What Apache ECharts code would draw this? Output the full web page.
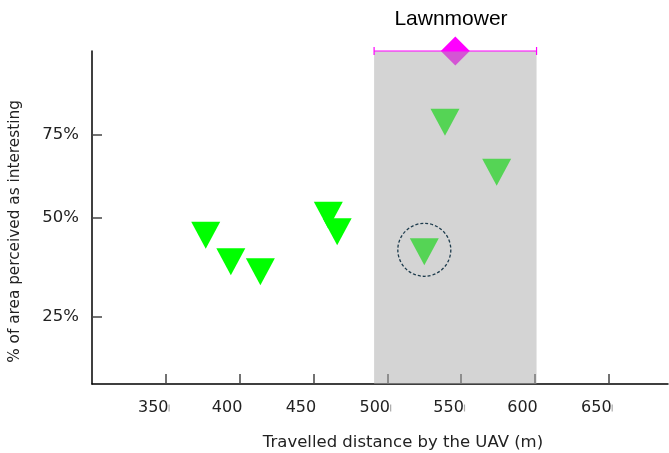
<!DOCTYPE html>
<html>
<head>
<meta charset="utf-8">
<script src="https://cdn.jsdelivr.net/npm/echarts@6/dist/echarts.min.js"></script>
<style>html,body{margin:0;padding:0;background:#fff;}#c{width:669px;height:453px;}</style>
</head>
<body>
<div id="c"></div>
<script>
// Data
const pointsX = [377, 394, 414, 460, 466, 539, 574, 525];
const pointsY = [44.7, 36.7, 33.7, 50.7, 45.7, 78.6, 63.6, 39.7];
const lawnmowerMean = [546];
const lawnmowerY = [100];
const lawnmowerRange = [491, 601];
const highlightPoint = [525, 40.3];
const xTickValues = [350, 400, 450, 500, 550, 600, 650];
const xMarkedTicks = [350, 500, 550, 650];
const yTickValues = [20.2, 50, 75];
const yTickLabels = ['25%', '50%', '75%'];

const chart = echarts.init(document.getElementById('c'), null, {renderer: 'canvas'});
const pts = pointsX.map((x, i) => [x, pointsY[i]]);
const font = 'DejaVu Sans';

chart.setOption({
  animation: false,
  backgroundColor: '#fff',
  title: {
    text: 'Lawnmower', left: 446, top: 4, textAlign: 'center',
    textStyle: {fontFamily: 'Liberation Sans', fontSize: 21, fontWeight: 'normal', color: '#000'}
  },
  grid: {left: 92, right: 1, top: 51, bottom: 69, outerBoundsMode: 'none', containLabel: false},
  xAxis: {
    type: 'value', min: 300, max: 690, interval: 50,
    name: 'Travelled distance by the UAV (m)', nameLocation: 'middle', nameGap: 50,
    nameTextStyle: {fontFamily: font, fontSize: 16.5, color: '#222', padding: [0, 0, 0, 46]},
    axisLine: {lineStyle: {color: '#000', width: 1.5}},
    axisTick: {show: true, inside: true, length: 10, customValues: xTickValues, lineStyle: {color: '#444', width: 1.5}},
    axisLabel: {
      customValues: xTickValues, fontFamily: font, fontSize: 16, color: '#222', margin: 16, padding: [0, 24, 0, 0],
      formatter: v => '{a|' + v + '}' + (xMarkedTicks.indexOf(v) >= 0 ? '{m|}' : '{n|}'),
      rich: {
        a: {fontFamily: font, fontSize: 16, color: '#222'},
        m: {width: 1.2, height: 7, backgroundColor: '#aaa', align: 'left'},
        n: {width: 1.2, height: 7}
      }
    },
    splitLine: {show: false}
  },
  yAxis: {
    type: 'value', min: 0, max: 100,
    name: '% of area perceived as interesting', nameLocation: 'middle', nameGap: 69, nameRotate: 90,
    nameTextStyle: {fontFamily: font, fontSize: 15.3, color: '#222', padding: [0, 28, 0, 0]},
    axisLine: {show: true, lineStyle: {color: '#000', width: 1.5}},
    axisTick: {show: true, inside: true, length: 10, customValues: yTickValues, lineStyle: {color: '#444', width: 1.5}},
    axisLabel: {
      customValues: yTickValues, fontFamily: font, fontSize: 16.5, color: '#222', margin: 13,
      formatter: v => { const i = yTickValues.indexOf(v); return i >= 0 ? yTickLabels[i] : ''; }
    },
    splitLine: {show: false}
  },
  series: [
    {
      type: 'scatter', data: pts, symbol: 'triangle', symbolRotate: 180, symbolSize: [29, 27],
      itemStyle: {color: '#00ff00', opacity: 1}, z: 2
    },
    {
      type: 'scatter', data: [[lawnmowerMean[0], lawnmowerY[0]]], symbol: 'diamond', symbolSize: [29, 29],
      itemStyle: {color: '#ff00ff', opacity: 1}, z: 2, clip: false
    },
    {
      type: 'custom', z: 5, clip: false, silent: true,
      data: [[lawnmowerRange[0], lawnmowerRange[1]]],
      renderItem: (params, api) => {
        const p0 = api.coord([api.value(0), 0]);
        const p1 = api.coord([api.value(1), 100]);
        return {type: 'rect', shape: {x: p0[0], y: p1[1], width: p1[0] - p0[0], height: p0[1] - p1[1]},
          style: {fill: 'rgba(170,170,170,0.5)'}};
      }
    },
    {
      type: 'custom', z: 6, clip: false, silent: true,
      data: [[lawnmowerRange[0], lawnmowerRange[1], lawnmowerY[0]]],
      renderItem: (params, api) => {
        const a = api.coord([api.value(0), api.value(2)]);
        const b = api.coord([api.value(1), api.value(2)]);
        const st = {stroke: '#ff00ff', lineWidth: 1.2};
        return {type: 'group', children: [
          {type: 'line', shape: {x1: a[0], y1: a[1], x2: b[0], y2: b[1]}, style: st},
          {type: 'line', shape: {x1: a[0], y1: a[1] - 4, x2: a[0], y2: a[1] + 4}, style: st},
          {type: 'line', shape: {x1: b[0], y1: b[1] - 4, x2: b[0], y2: b[1] + 4}, style: st}
        ]};
      }
    },
    {
      type: 'custom', z: 7, clip: false, silent: true,
      data: [highlightPoint],
      renderItem: (params, api) => {
        const c = api.coord([api.value(0), api.value(1)]);
        return {type: 'circle', shape: {cx: c[0], cy: c[1], r: 26.5},
          style: {fill: 'none', stroke: '#1d3b4c', lineWidth: 1.3, lineDash: [3, 2]}};
      }
    }
  ]
});
</script>
</body>
</html>
